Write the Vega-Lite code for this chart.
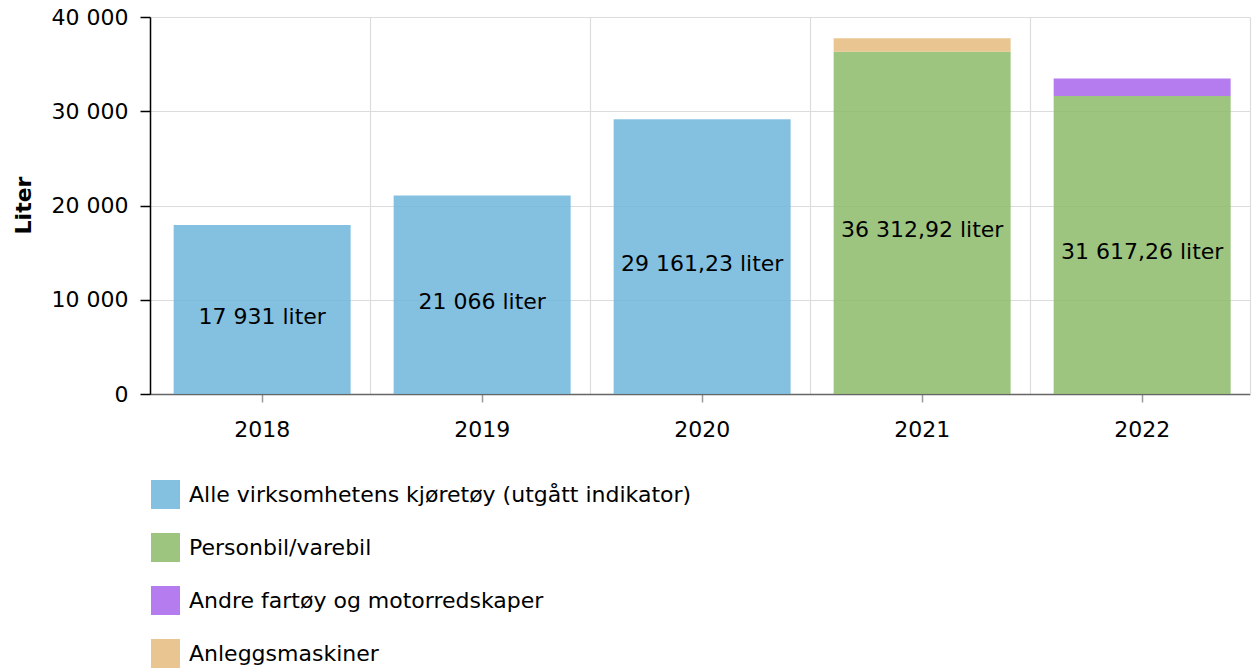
{
  "$schema": "https://vega.github.io/schema/vega-lite/v6.json",
  "autosize": "none",
  "padding": {"left": 150, "top": 17, "right": 3, "bottom": 274},
  "width": 1100,
  "height": 377,
  "config": {
    "font": "DejaVu Sans",
    "view": {"stroke": null},
    "axis": {"labelFontSize": 22, "labelColor": "#000", "gridColor": "#dcdcdc", "gridWidth": 1.2},
    "axisY": {
      "domainColor": "#000", "domainWidth": 1.5, "tickColor": "#000", "tickWidth": 1.5, "tickSize": 10,
      "labelPadding": 12, "titleFontSize": 22, "titleFontWeight": "bold", "titleColor": "#000",
      "titleAngle": -90, "titleX": -127, "titleY": 188, "titleAlign": "center", "titleBaseline": "middle"
    }
  },
  "data": {
    "values": [
      {"year": "2018", "series": "Alle virksomhetens kjøretøy (utgått indikator)", "value": 17931, "rank": 1, "label": "17 931 liter"},
      {"year": "2019", "series": "Alle virksomhetens kjøretøy (utgått indikator)", "value": 21066, "rank": 1, "label": "21 066 liter"},
      {"year": "2020", "series": "Alle virksomhetens kjøretøy (utgått indikator)", "value": 29161.23, "rank": 1, "label": "29 161,23 liter"},
      {"year": "2021", "series": "Personbil/varebil", "value": 36312.92, "rank": 1, "label": "36 312,92 liter"},
      {"year": "2021", "series": "Anleggsmaskiner", "value": 1420, "rank": 2},
      {"year": "2022", "series": "Personbil/varebil", "value": 31617.26, "rank": 1, "label": "31 617,26 liter"},
      {"year": "2022", "series": "Andre fartøy og motorredskaper", "value": 1860, "rank": 2}
    ]
  },
  "resolve": {"axis": {"x": "independent", "y": "independent"}},
  "layer": [
    {
      "mark": {"type": "bar", "opacity": 0.85},
      "encoding": {
        "x": {
          "field": "year", "type": "nominal",
          "scale": {"paddingInner": 0.1955, "paddingOuter": 0.0977, "align": 0.55},
          "axis": {
            "orient": "bottom", "title": null, "grid": false, "labelAngle": 0,
            "domainColor": "#666", "domainWidth": 1.5, "tickColor": "#999", "tickWidth": 1.5, "tickSize": 8,
            "labelPadding": 17
          }
        },
        "y": {
          "field": "value", "type": "quantitative", "stack": "zero",
          "scale": {"domain": [0, 40000], "nice": false},
          "title": "Liter",
          "axis": {
            "orient": "left", "grid": true, "values": [0, 10000, 20000, 30000, 40000],
            "labelExpr": "replace(format(datum.value, ','), regexp(',', 'g'), ' ')"
          }
        },
        "color": {
          "field": "series", "type": "nominal",
          "scale": {
            "domain": ["Alle virksomhetens kjøretøy (utgått indikator)", "Personbil/varebil", "Andre fartøy og motorredskaper", "Anleggsmaskiner"],
            "range": ["#6fb6dc", "#8cbb69", "#a865ec", "#e5bb7e"]
          },
          "legend": {
            "orient": "none", "legendX": 0, "legendY": 462, "direction": "vertical",
            "title": null, "padding": 0, "symbolType": "square", "symbolSize": 841,
            "symbolStrokeWidth": 1.5, "labelFontSize": 22, "labelColor": "#000",
            "labelOffset": 8, "rowPadding": 23, "labelLimit": 800
          }
        },
        "order": {"field": "rank", "type": "quantitative"}
      }
    },
    {
      "transform": [{"filter": "isValid(datum.label)"}],
      "mark": {"type": "text", "fontSize": 22, "color": "#000", "baseline": "middle", "dy": 7},
      "encoding": {
        "x": {
          "field": "year", "type": "nominal",
          "axis": {
            "orient": "top", "title": null, "grid": true, "bandPosition": 0, "tickOffset": -23.6,
            "labels": false, "ticks": false, "domain": false
          }
        },
        "y": {
          "field": "value", "type": "quantitative", "stack": "zero", "bandPosition": 0.5,
          "axis": {
            "orient": "right", "title": null, "grid": false, "labels": false, "ticks": false,
            "domain": true, "domainColor": "#dcdcdc", "domainWidth": 1.2
          }
        },
        "text": {"field": "label"}
      }
    }
  ]
}
